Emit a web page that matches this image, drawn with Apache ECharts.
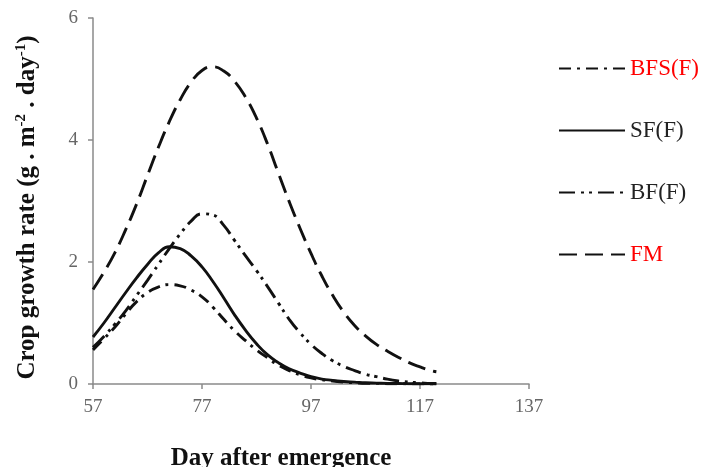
<!DOCTYPE html>
<html>
<head>
<meta charset="utf-8">
<script src="https://cdn.jsdelivr.net/npm/echarts@6/dist/echarts.min.js"></script>
<style>
html,body{margin:0;padding:0;background:#fff;}
#chart{width:711px;height:467px;}
</style>
</head>
<body>
<div id="chart"></div>
<script>
// ---- data ----
const days = [57,59,61,63,65,67,69,71,73,75,77,79,81,83,85,87,89,91,93,95,97,99,101,103,105,107,109,111,113,115,117,119,120];
const bfsF = [0.56,0.74,0.93,1.15,1.35,1.50,1.59,1.63,1.61,1.54,1.43,1.26,1.06,0.87,0.71,0.56,0.43,0.31,0.22,0.15,0.10,0.07,0.05,0.03,0.02,0.01,0.01,0.005,0.004,0.003,0.002,0.001,0];
const sfF  = [0.77,1.00,1.25,1.50,1.74,1.96,2.15,2.25,2.22,2.10,1.92,1.68,1.41,1.13,0.88,0.66,0.48,0.35,0.25,0.18,0.12,0.08,0.06,0.04,0.03,0.02,0.015,0.01,0.008,0.005,0.003,0.002,0];
const bfF  = [0.60,0.78,0.98,1.20,1.45,1.70,1.96,2.22,2.46,2.67,2.79,2.77,2.60,2.35,2.10,1.86,1.60,1.33,1.06,0.84,0.65,0.50,0.38,0.29,0.22,0.16,0.12,0.08,0.05,0.03,0.02,0.01,0.01];
const fm   = [1.55,1.83,2.15,2.53,2.95,3.42,3.88,4.30,4.66,4.95,5.14,5.20,5.13,4.96,4.70,4.36,3.94,3.46,2.99,2.55,2.14,1.77,1.45,1.18,0.96,0.79,0.65,0.54,0.44,0.35,0.28,0.22,0.20];
const xTicks = [57,77,97,117,137];
const seriesNames = ['BFS(F)','SF(F)','BF(F)','FM'];

const FONT = 'Liberation Serif';
const pairs = v => days.map((d,i)=>[d, v[i]]);

const chart = echarts.init(document.getElementById('chart'), null, {renderer:'canvas'});
const lineBase = (name, vals, type) => ({
  name, type:'line', data: pairs(vals), smooth:0.5, symbol:'none',
  lineStyle:{color:'#111', width:2.9, type:type, cap:'butt'},
  itemStyle:{color:'#111'}
});
chart.setOption({
  animation:false,
  grid:{left:93, right:182, top:18, bottom:83, outerBoundsMode:'none', containLabel:false},
  legend:{
    orient:'vertical', left:558, top:57, padding:0,
    itemWidth:66, itemHeight:22, itemGap:39,
    itemStyle:{opacity:0},
    textStyle:{fontFamily:FONT, fontSize:23, color:'#222', lineHeight:22},
    data:[
      {name:seriesNames[0], textStyle:{color:'#ff0000'}},
      {name:seriesNames[1]},
      {name:seriesNames[2]},
      {name:seriesNames[3], textStyle:{color:'#ff0000'}}
    ]
  },
  xAxis:{
    type:'value', min:57, max:137,
    name:'Day after emergence', nameLocation:'middle', nameGap:62,
    nameTextStyle:{fontFamily:FONT, fontSize:25, fontWeight:'bold', color:'#111', padding:[0,60,0,0]},
    axisLine:{show:true, lineStyle:{color:'#8a8a8a', width:1.5}},
    axisTick:{show:true, length:5, customValues:xTicks, lineStyle:{color:'#8a8a8a', width:1.5}},
    axisLabel:{customValues:xTicks, margin:14, fontFamily:FONT, fontSize:19, color:'#666'},
    splitLine:{show:false}
  },
  yAxis:{
    type:'value', min:0, max:6, interval:2,
    name:'{a|Crop growth rate (g . m}{s|-2}{a| . day}{s|-1}{a|)}',
    nameLocation:'middle', nameGap:52,
    nameTextStyle:{
      padding:[0,13,0,0],
      rich:{
        a:{fontFamily:FONT, fontSize:25, fontWeight:'bold', color:'#111', lineHeight:27},
        s:{fontFamily:FONT, fontSize:15, fontWeight:'bold', color:'#111', verticalAlign:'top', lineHeight:15}
      }
    },
    axisLine:{show:true, lineStyle:{color:'#8a8a8a', width:1.5}},
    axisTick:{show:true, length:5, lineStyle:{color:'#8a8a8a', width:1.5}},
    axisLabel:{margin:15, fontFamily:FONT, fontSize:19, color:'#666'},
    splitLine:{show:false}
  },
  series:[
    lineBase(seriesNames[0], bfsF, [12,6,3,6]),
    lineBase(seriesNames[1], sfF, 'solid'),
    lineBase(seriesNames[2], bfF, [16,6,3,5,3,6]),
    lineBase(seriesNames[3], fm, [18,8])
  ]
});
</script>
</body>
</html>
